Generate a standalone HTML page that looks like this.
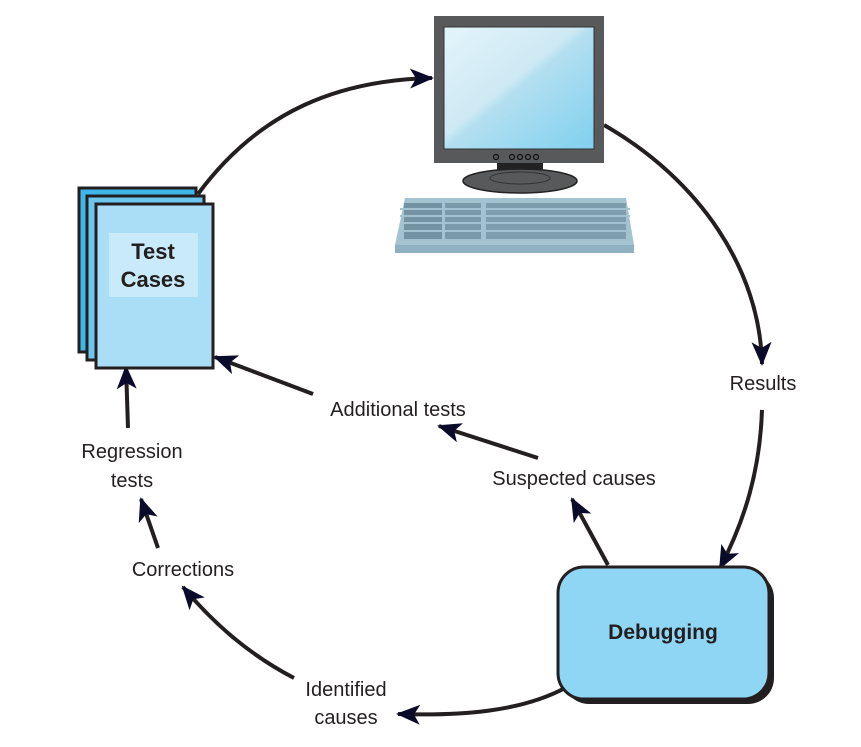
<!DOCTYPE html>
<html><head><style>
html,body{margin:0;padding:0;background:#fff;}
svg{display:block;}
text{font-family:"Liberation Sans",sans-serif;fill:#231f20;}
</style></head><body>
<svg width="861" height="747" viewBox="0 0 861 747" xmlns="http://www.w3.org/2000/svg">
<defs>
<marker id="a" viewBox="0 0 24 20" refX="22" refY="10" markerWidth="24" markerHeight="20" markerUnits="userSpaceOnUse" orient="auto">
<path d="M0,0 L24,10 L0,20 L6,10 Z" fill="#0a0a2a"/>
</marker>
<linearGradient id="scr" x1="0" y1="0" x2="1" y2="1">
<stop offset="0" stop-color="#e4f4fb"/><stop offset="0.45" stop-color="#cde9f4"/><stop offset="0.5" stop-color="#b3dff0"/><stop offset="1" stop-color="#7fd0ef"/>
</linearGradient>
</defs>
<g fill="none" stroke="#231f20" stroke-width="4">
<path d="M198,194 C260,110 340,80 432,78" marker-end="url(#a)"/>
<path d="M604,125 C700,180 760,270 762,364" marker-end="url(#a)"/>
<path d="M762,410 C760,470 745,520 720,568" marker-end="url(#a)"/>
<path d="M608,565 L572,499" marker-end="url(#a)"/>
<path d="M538,458 L439,426" marker-end="url(#a)"/>
<path d="M313,394 L215,357" marker-end="url(#a)"/>
<path d="M294,678 C250,655 215,625 183,587" marker-end="url(#a)"/>
<path d="M158,548 L141,499" marker-end="url(#a)"/>
<path d="M128,428 L126,367" marker-end="url(#a)"/>
<path d="M565,688 C520,712 460,716 398,714" marker-end="url(#a)"/>
</g>
<g stroke="#231f20" stroke-width="3">
<rect x="79" y="188" width="117" height="164" fill="#3fb6e8"/>
<rect x="87" y="196" width="117" height="164" fill="#6cc7ee"/>
<rect x="96" y="204" width="117" height="164" fill="#a9def6"/>
</g>
<rect x="109" y="233" width="89" height="64" fill="#c9eaf8"/>
<text x="153" y="259" font-size="22" font-weight="bold" text-anchor="middle">Test</text>
<text x="153" y="287" font-size="22" font-weight="bold" text-anchor="middle">Cases</text>
<rect x="434" y="16" width="170" height="147" fill="#58595b"/>
<rect x="444" y="27" width="150" height="122" fill="url(#scr)" stroke="#333" stroke-width="1"/>
<g fill="none" stroke="#111" stroke-width="1.2">
<circle cx="496" cy="157" r="2.5"/><circle cx="512" cy="157" r="2.5"/><circle cx="520" cy="157" r="2.5"/><circle cx="528" cy="157" r="2.5"/><circle cx="536" cy="157" r="2.5"/>
</g>
<rect x="497" y="163" width="46" height="14" fill="#222"/>
<ellipse cx="520" cy="181" rx="57" ry="12" fill="#58595b" stroke="#222" stroke-width="1.5"/>
<ellipse cx="520" cy="178" rx="30" ry="6" fill="none" stroke="#333" stroke-width="1"/>
<path d="M405,198 L626,198 L634,245 L634,253 L395,253 L395,245 Z" fill="#a4c3d1"/>
<rect x="395" y="245" width="239" height="8" fill="#8fb1c1"/>
<g fill="#5f7f8f">
<rect x="404" y="203" width="38" height="36" opacity="0.7"/>
<rect x="445" y="203" width="36" height="36" opacity="0.6"/>
<rect x="486" y="203" width="140" height="36" opacity="0.55"/>
</g>
<g stroke="#a4c3d1" stroke-width="2">
<line x1="400" y1="209" x2="630" y2="209"/><line x1="400" y1="216" x2="630" y2="216"/><line x1="400" y1="223" x2="630" y2="223"/><line x1="400" y1="231" x2="630" y2="231"/>
</g>
<rect x="563" y="572" width="211" height="132" rx="26" fill="#231f20"/>
<rect x="558" y="567" width="211" height="132" rx="26" fill="#8fd6f4" stroke="#231f20" stroke-width="3"/>
<text x="663" y="639" font-size="21" font-weight="bold" text-anchor="middle">Debugging</text>
<g font-size="20">
<text x="763" y="390" text-anchor="middle">Results</text>
<text x="398" y="416" text-anchor="middle">Additional tests</text>
<text x="574" y="485" text-anchor="middle">Suspected causes</text>
<text x="132" y="458" text-anchor="middle">Regression</text>
<text x="132" y="487" text-anchor="middle">tests</text>
<text x="183" y="576" text-anchor="middle">Corrections</text>
<text x="346" y="696" text-anchor="middle">Identified</text>
<text x="346" y="724" text-anchor="middle">causes</text>
</g>
</svg>
</body></html>
